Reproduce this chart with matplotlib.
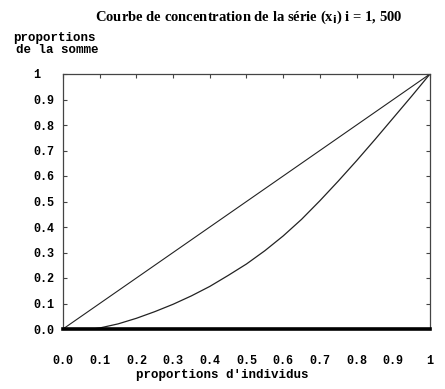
import numpy as np
import matplotlib
matplotlib.use("Agg")
import matplotlib.pyplot as plt

# Lorenz / concentration curve
prop_indiv = [0.0, 0.05, 0.08, 0.10, 0.15, 0.20, 0.25, 0.30, 0.35, 0.40, 0.45, 0.50,
              0.55, 0.60, 0.65, 0.70, 0.75, 0.80, 0.85, 0.90, 0.95, 1.0]
prop_somme = [0.0, 0.0, 0.0, 0.004, 0.02, 0.042, 0.068, 0.097, 0.13, 0.167, 0.21, 0.255,
              0.307, 0.365, 0.43, 0.503, 0.58, 0.66, 0.743, 0.828, 0.913, 1.0]

xticks = [0.0, 0.1, 0.2, 0.3, 0.4, 0.5, 0.6, 0.7, 0.8, 0.9, 1.0]
xtick_labels = ["0.0", "0.1", "0.2", "0.3", "0.4", "0.5", "0.6", "0.7", "0.8", "0.9", "1"]
yticks = xticks
ytick_labels = xtick_labels

mono = "Liberation Mono"
serif = "Liberation Serif"
dark = "#222222"

fig = plt.figure(figsize=(4.45, 3.89), dpi=100)
ax = fig.add_axes([63 / 445, 1 - 329 / 389, 367 / 445, 255 / 389])

# diagonal (equal distribution)
ax.plot([0, 1], [0, 1], color=dark, lw=0.8)
# concentration curve
ax.plot(prop_indiv, prop_somme, color=dark, lw=0.9)

ax.set_xlim(0, 1)
ax.set_ylim(0, 1)
for s in ax.spines.values():
    s.set_color("#444444")
    s.set_linewidth(0.9)
# bottom heavy line
ax.spines["bottom"].set_color("black")
ax.spines["bottom"].set_linewidth(2.6)

ax.set_xticks(xticks)
ax.set_xticklabels(xtick_labels, family=mono, weight="bold", fontsize=8.5)
ax.set_yticks(yticks)
ax.set_yticklabels(ytick_labels, family=mono, weight="bold", fontsize=8.5, ha="left")

ax.tick_params(axis="x", direction="in", length=3, width=0.8, pad=19,
               bottom=False, top=True, labelbottom=True, labeltop=False, color="#444444")
ax.tick_params(axis="y", direction="in", length=3, width=0.8, pad=21.5,
               right=True, color="#444444")

fig.text(249 / 445, 1 - 17 / 389, "Courbe de concentration de la série (x$_\\mathbf{i}$) i = 1, 500",
         family=serif, weight="bold", fontsize=10.5, ha="center", va="center")
fig.text(13 / 445, 1 - 38 / 389, "proportions", family=mono, weight="bold",
         fontsize=9, ha="left", va="center")
fig.text(16 / 445, 1 - 50 / 389, "de la somme", family=mono, weight="bold",
         fontsize=9, ha="left", va="center")
fig.text(222 / 445, 1 - 375 / 389, "proportions d'individus", family=mono,
         weight="bold", fontsize=9, ha="center", va="center")

fig.savefig("out.png", dpi=100)
